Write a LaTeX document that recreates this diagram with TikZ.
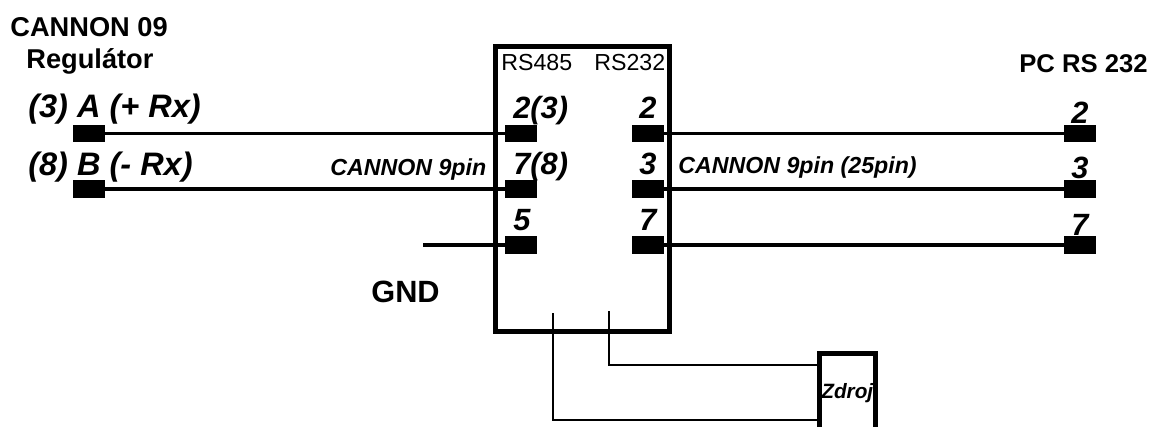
\documentclass[tikz,border=0pt]{standalone}
\usepackage{fontspec}
\setmainfont{Liberation Sans}

\tikzset{
  pad/.style={fill=black, inner sep=0pt, minimum width=0.63cm, minimum height=0.35cm},
  wire/.style={line width=0.066cm},
  thinwire/.style={line width=0.04cm},
  frame/.style={draw, line width=0.1cm, inner sep=0pt},
  lbl/.style={anchor=base west, inner sep=0pt},
  headtext/.style={lbl, font=\fontsize{15.5}{18}\selectfont\bfseries},
  pintext/.style={lbl, font=\fontsize{17.5}{20}\selectfont\bfseries\itshape},
  sigtext/.style={lbl, font=\fontsize{18.5}{22}\selectfont\bfseries\itshape},
  porttext/.style={lbl, font=\fontsize{13.2}{16}\selectfont},
  cabletext/.style={lbl, font=\fontsize{13.2}{16}\selectfont\bfseries\itshape}
}

\begin{document}
\begin{tikzpicture}[x=0.02cm, y=-0.02cm]

\useasboundingbox ( 0, 0 ) rectangle ( 1152, 426 );

% Boxes
\node (conv) at ( 582.5, 189 ) [frame, minimum width=3.5cm, minimum height=5.72cm] {};
\node (zdroj) at ( 847, 400 ) [frame, minimum width=1.12cm, minimum height=1.88cm] {};

% Regulator pads
\node (regA) at ( 89, 133.5 ) [pad] {};
\node (regB) at ( 89, 189 ) [pad] {};

% RS485 pads
\node (in2) at ( 521, 133.5 ) [pad] {};
\node (in7) at ( 521, 189 ) [pad] {};
\node (in5) at ( 521, 245 ) [pad] {};

% RS232 pads
\node (out2) at ( 648, 133.5 ) [pad] {};
\node (out3) at ( 648, 189 ) [pad] {};
\node (out7) at ( 648, 245 ) [pad] {};

% PC pads
\node (pc2) at ( 1080, 133.5 ) [pad] {};
\node (pc3) at ( 1080, 189 ) [pad] {};
\node (pc7) at ( 1080, 245 ) [pad] {};

% Free ends
\coordinate (gndend) at ( 423, 245 );
\coordinate (supA) at ( 553, 313 );
\coordinate (supB) at ( 609, 311 );
\coordinate (zdrojA) at ( 818, 420 );
\coordinate (zdrojB) at ( 818, 365 );

% Lines
\draw [wire] (regA) -- (in2);
\draw [wire] (regB) -- (in7);
\draw [wire] (gndend) -- (in5);
\draw [wire] (out2) -- (pc2);
\draw [wire] (out3) -- (pc3);
\draw [wire] (out7) -- (pc7);
\draw [thinwire] (supA) |- (zdrojA);
\draw [thinwire] (supB) |- (zdrojB);

% Labels
\node (title) at ( 10, 36 ) [headtext] {CANNON 09};
\node (regul) at ( 26, 68 ) [headtext] {Regulátor};
\node (pctitle) at ( 1019, 72 ) [headtext, font=\fontsize{14.6}{18}\selectfont\bfseries] {PC RS 232};
\node (gnd) at ( 371, 302 ) [headtext, font=\fontsize{17.5}{20}\selectfont\bfseries] {GND};

\node (labA) at ( 28, 117 ) [sigtext] {(3) A (+ Rx)};
\node (labB) at ( 28, 175 ) [sigtext] {(8) B (- Rx)};

\node (rs485) at ( 501, 70 ) [porttext] {RS485};
\node (rs232) at ( 594, 70 ) [porttext] {RS232};

\node (cabL) at ( 330, 175 ) [cabletext] {CANNON 9pin};
\node (cabR) at ( 678, 173 ) [cabletext] {CANNON 9pin (25pin)};

\node (num1) at ( 513, 118 ) [pintext] {2(3)};
\node (num2) at ( 513, 174 ) [pintext] {7(8)};
\node (num3) at ( 513, 230 ) [pintext] {5};
\node (num4) at ( 639, 118 ) [pintext] {2};
\node (num5) at ( 639, 174 ) [pintext] {3};
\node (num6) at ( 639, 230 ) [pintext] {7};
\node (num7) at ( 1071, 123 ) [pintext] {2};
\node (num8) at ( 1071, 178 ) [pintext] {3};
\node (num9) at ( 1071, 235 ) [pintext] {7};

\node (zlab) at ( 821, 398 ) [lbl, font=\fontsize{11.8}{14}\selectfont\bfseries\itshape] {Zdroj};

\end{tikzpicture}
\end{document}
